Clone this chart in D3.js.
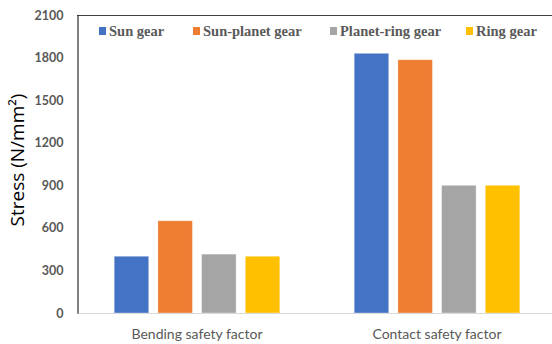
<!DOCTYPE html>
<html>
<head>
<meta charset="utf-8">
<script src="https://cdn.jsdelivr.net/npm/d3@7"></script>
<style>
  html, body { margin: 0; padding: 0; background: #fff; }
  svg { display: block; }
</style>
</head>
<body>
<svg id="chart" width="552" height="344"></svg>
<script>
// Stress by gear pair for each safety factor
const categories = ["Bending safety factor", "Contact safety factor"];
const seriesNames = ["Sun gear", "Sun-planet gear", "Planet-ring gear", "Ring gear"];
const sunGear = [400, 1830];
const sunPlanetGear = [650, 1785];
const planetRingGear = [415, 900];
const ringGear = [400, 900];
const yTicks = [0, 300, 600, 900, 1200, 1500, 1800, 2100];
const colors = ["#4472C4", "#ED7D31", "#A5A5A5", "#FFC000"];

const seriesValues = [sunGear, sunPlanetGear, planetRingGear, ringGear];

const svg = d3.select("#chart");
const plot = { left: 77, right: 557, top: 15, bottom: 313 };

const x0 = d3.scaleBand()
  .domain(categories)
  .range([plot.left, plot.right]);

const x1 = d3.scaleBand()
  .domain(seriesNames)
  .range([0, x0.bandwidth() * 0.69])
  .paddingInner(0.21);

const groupOffset = (x0.bandwidth() - x1.range()[1]) / 2;

const y = d3.scaleLinear()
  .domain([0, 2100])
  .range([plot.bottom, plot.top]);

// Bars
const groups = svg.append("g")
  .selectAll("g")
  .data(categories)
  .join("g")
  .attr("transform", d => `translate(${x0(d) + groupOffset},0)`);

groups.selectAll("rect")
  .data((c, ci) => seriesNames.map((s, si) => ({ s, si, v: seriesValues[si][ci] })))
  .join("rect")
  .attr("x", d => x1(d.s))
  .attr("width", x1.bandwidth())
  .attr("y", d => y(d.v))
  .attr("height", d => y(0) - y(d.v))
  .attr("fill", d => colors[d.si])
  .attr("stroke", "rgba(255,255,255,0.35)")
  .attr("stroke-width", 1);

// Bottom axis line
svg.append("line")
  .attr("x1", plot.left).attr("x2", 552)
  .attr("y1", y(0) + 0.5).attr("y2", y(0) + 0.5)
  .attr("stroke", "#d9d9d9").attr("stroke-width", 1);

// Top frame line
svg.append("line")
  .attr("x1", plot.left).attr("x2", 552)
  .attr("y1", plot.top + 0.5).attr("y2", plot.top + 0.5)
  .attr("stroke", "#404040").attr("stroke-width", 1);

// Left axis with tick labels
const yAxis = d3.axisLeft(y)
  .tickValues(yTicks)
  .tickFormat(d3.format("d"))
  .tickSize(0)
  .tickPadding(14);

const yg = svg.append("g")
  .attr("transform", `translate(${plot.left + 0.5},0)`)
  .call(yAxis);
yg.select(".domain").attr("stroke", "#000").attr("stroke-width", 1);
yg.selectAll("text")
  .attr("font-family", "Lato, 'Noto Sans', sans-serif")
  .attr("font-size", 12.5)
  .attr("font-weight", 700)
  .attr("fill", "#595959");

// Category labels
const xAxis = d3.axisBottom(x0).tickSize(0).tickPadding(16);
const xg = svg.append("g")
  .attr("transform", `translate(0,${plot.bottom})`)
  .call(xAxis);
xg.select(".domain").remove();
xg.selectAll("text")
  .attr("font-family", "Lato, 'Noto Sans', sans-serif")
  .attr("font-size", 14)
  .attr("fill", "#595959");

// Y axis title
svg.append("text")
  .attr("transform", "translate(24,160) rotate(-90)")
  .attr("text-anchor", "middle")
  .attr("font-family", "'Open Sans', 'Noto Sans', sans-serif")
  .attr("font-size", 19)
  .attr("fill", "#000")
  .text("Stress (N/mm²)");

// Legend
const legendX = [99, 193, 330, 466];
const legend = svg.append("g")
  .selectAll("g")
  .data(seriesNames)
  .join("g")
  .attr("transform", (d, i) => `translate(${legendX[i]},31)`);

legend.append("rect")
  .attr("x", 0).attr("y", -4)
  .attr("width", 7).attr("height", 8)
  .attr("fill", (d, i) => colors[i]);

legend.append("text")
  .attr("x", 10)
  .attr("y", 5)
  .attr("font-family", "'Liberation Serif', 'Times New Roman', serif")
  .attr("font-size", 14.5)
  .attr("font-weight", 700)
  .attr("fill", "#595959")
  .text(d => d);
</script>
</body>
</html>
